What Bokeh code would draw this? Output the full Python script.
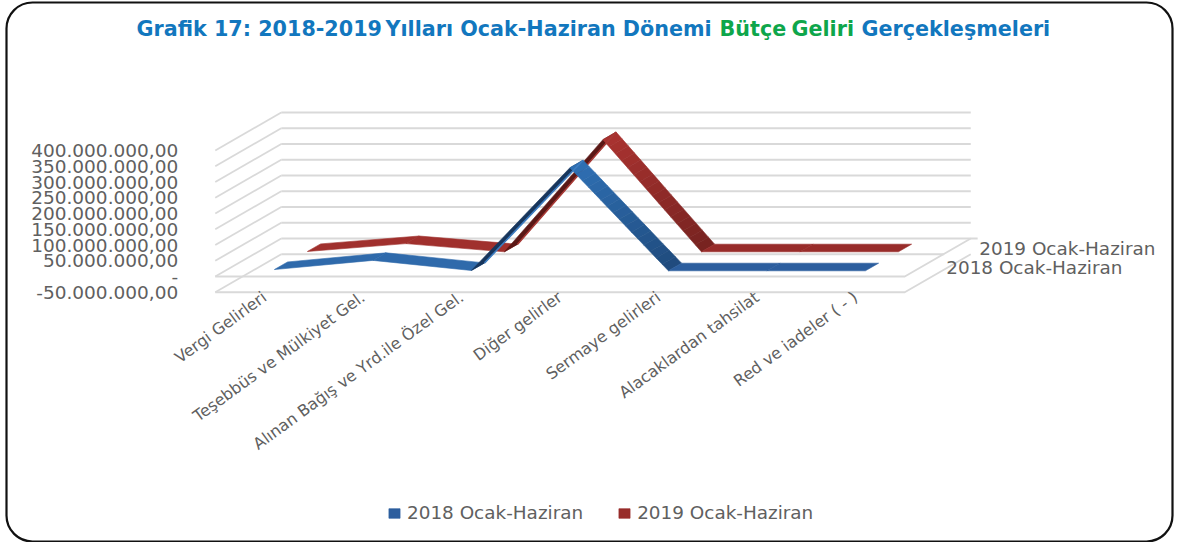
from bokeh.plotting import figure
from bokeh.models import (Range1d, FixedTicker, Legend, LegendItem, BoxAnnotation)
from bokeh.core.properties import value
from bokeh.embed import file_html
from bokeh.resources import INLINE

# ---------- data ----------
categories = ["Vergi Gelirleri", "Teşebbüs ve Mülkiyet Gel.", "Alınan Bağış ve Yrd.ile Özel Gel.",
              "Diğer gelirler", "Sermaye gelirleri", "Alacaklardan tahsilat", "Red ve iadeler ( - )"]
values_2018 = [4e6, 33e6, 1e6, 327e6, 0, 0, 0]
values_2019 = [1e6, 26e6, 0, 356e6, 0, 0, 0]
series_names = ["2018 Ocak-Haziran", "2019 Ocak-Haziran"]
value_ticks = [-50e6, 0, 50e6, 100e6, 150e6, 200e6, 250e6, 300e6, 350e6, 400e6]
value_labels = ["-50.000.000,00", "-", "50.000.000,00", "100.000.000,00", "150.000.000,00",
                "200.000.000,00", "250.000.000,00", "300.000.000,00", "350.000.000,00", "400.000.000,00"]

# ---------- layout of the oblique projection ----------
W, H = 1186, 542
CAT_PX = 98.5          # pixels per category
VAL_PX = 15.75 / 50e6  # pixels per unit of value
X0_PX, Y0_PX = 264, 276
DEPTH_DX = 66 / CAT_PX      # shift in category units for full depth
DEPTH_DY = 38 / VAL_PX      # shift in value units for full depth
X_LO, X_HI = -0.5, 6.5
GRID = "#D9D9D9"
TXT = "#606060"
FONT = "DejaVu Sans"


def proj(i, v, d):
    return i + DEPTH_DX * d, v + DEPTH_DY * d


def mix(c1, c2, t):
    a = [int(c1[k:k + 2], 16) for k in (1, 3, 5)]
    b = [int(c2[k:k + 2], 16) for k in (1, 3, 5)]
    return "#%02x%02x%02x" % tuple(round(a[k] + (b[k] - a[k]) * t) for k in range(3))


p = figure(width=W, height=H, output_backend="svg", toolbar_location=None,
           x_range=Range1d(-X0_PX / CAT_PX, (W - X0_PX) / CAT_PX),
           y_range=Range1d(-(H - Y0_PX) / VAL_PX, Y0_PX / VAL_PX),
           min_border=0, margin=0,
           x_axis_location="below", y_axis_location="left")
p.outline_line_color = None
p.grid.visible = False
p.background_fill_color = "white"

# ---------- frame ----------
p.add_layout(BoxAnnotation(left=6, right=1172, top=1, bottom=540,
                           left_units="screen", right_units="screen",
                           top_units="screen", bottom_units="screen",
                           fill_alpha=0, line_color="#111111", line_width=2.2, line_alpha=1,
                           border_radius=26, level="underlay"))

# ---------- walls and floor ----------
gx, gy = [], []
for v in value_ticks:
    # back wall (the two lowest lines differ slightly in length on the right)
    end = X_HI + (0.07 if v == 0 else -0.27 if v == value_ticks[0] else 0)
    a, b = proj(X_LO, v, 1), proj(end, v, 1)
    gx.append([a[0], b[0]]); gy.append([a[1], b[1]])
    # left wall
    c = proj(X_LO, v, 0)
    gx.append([c[0], a[0]]); gy.append([c[1], a[1]])
for v in value_ticks[:2]:
    # front of floor and right side
    a, b, c = proj(X_LO, v, 0), proj(X_HI, v, 0), proj(X_HI, v, 1)
    gx.append([a[0], b[0], c[0]]); gy.append([a[1], b[1], c[1]])
p.multi_line(gx, gy, line_color=GRID, line_width=1.8)

# ---------- ribbons ----------
styles = [
    dict(vals=values_2018, d=(0.15, 0.35), flat="#2c5e9e", up="#2f6aab", steep_up="#17355c",
         edge="#3d7cc0", top="#2f70b4", bot="#1f4a7c"),
    dict(vals=values_2019, d=(0.65, 0.85), flat="#982c2a", up="#a0302d", steep_up="#5a1816",
         edge="#a83a36", top="#aa3330", bot="#762220"),
]
legend_r = {}
for s, name in reversed(list(zip(styles, series_names))):
    xs, ys, cols = [], [], []
    fx, fy = [], []
    ex, ey = [], []
    vals = s["vals"]
    d0, d1 = s["d"]
    for i in range(len(vals) - 1):
        slope = vals[i + 1] - vals[i]
        steep = abs(slope) > 100e6
        bands = 16 if steep and slope < 0 else 1
        for b in range(bands):
            t0, t1 = b / bands, (b + 1) / bands
            i0, i1 = i + t0, i + t1
            v0 = vals[i] + slope * t0
            v1 = vals[i] + slope * t1
            A, B = proj(i0, v0, d0), proj(i1, v1, d0)
            C, D = proj(i1, v1, d1), proj(i0, v0, d1)
            qx = [A[0], B[0], C[0], D[0]]
            qy = [A[1], B[1], C[1], D[1]]
            if slope == 0:
                fx.append(qx); fy.append(qy)
                continue
            xs.append(qx); ys.append(qy)
            if steep and slope < 0:
                cols.append(mix(s["top"], s["bot"], (t0 + t1) / 2))
            elif steep:
                cols.append(s["steep_up"])
            else:
                cols.append(s["up"])
        if steep and slope > 0:
            A, B = proj(i, vals[i], d1), proj(i + 1, vals[i + 1], d1)
            ex.append([A[0], B[0]]); ey.append([A[1], B[1]])
    p.patches(xs, ys, fill_color=cols, line_color=cols, line_width=0.6)
    p.multi_line(ex, ey, line_color=s["edge"], line_width=1.6)
    legend_r[name] = p.patches(fx, fy, fill_color=s["flat"], line_color=s["flat"], line_width=0.6)

# ---------- series names on the depth axis ----------
depths = [0.25, 0.75]
dp = [proj(X_HI, value_ticks[0], d) for d in depths]
p.text([q[0] for q in dp], [q[1] for q in dp], text=series_names,
       x_offset=25, y_offset=-15, text_font=value(FONT), text_font_size="18.4px",
       text_color=TXT, text_align="left", text_baseline="middle")

# ---------- legend ----------
legend = Legend(items=[LegendItem(label=n, renderers=[legend_r[n]]) for n in series_names],
                orientation="horizontal", location=(387, 19),
                border_line_color=None, background_fill_alpha=0,
                label_text_font=FONT, label_text_font_size="18.4px", label_text_color=TXT,
                glyph_width=14, glyph_height=12, spacing=34, label_standoff=6,
                padding=4, margin=0)
p.add_layout(legend)

# ---------- axes ----------
ya = p.yaxis[0]
ya.fixed_location = X_LO
ya.ticker = FixedTicker(ticks=value_ticks)
ya.major_label_overrides = dict(zip(value_ticks, value_labels))
ya.axis_line_color = None
ya.major_tick_line_color = None
ya.minor_tick_line_color = None
ya.major_label_standoff = 31
ya.major_label_text_font = FONT
ya.major_label_text_font_size = "18.5px"
ya.major_label_text_color = TXT

xa = p.xaxis[0]
xa.fixed_location = value_ticks[0]
xa.ticker = FixedTicker(ticks=list(range(len(categories))))
xa.major_label_overrides = dict(enumerate(categories))
xa.major_label_orientation = 0.63
xa.axis_line_color = None
xa.major_tick_line_color = None
xa.minor_tick_line_color = None
xa.major_label_standoff = -3
xa.major_label_text_font = FONT
xa.major_label_text_font_size = "16px"
xa.major_label_text_color = TXT

# ---------- title ----------
title_parts = [("Grafik 17: 2018-2019", 136, "#1277BE", "bold"),
               ("Yılları Ocak-Haziran Dönemi", 385, "#1277BE", "bold"),
               ("Bütçe", 719, "#0EA64B", "bold"),
               ("Geliri", 791, "#0EA64B", "bold"),
               ("Gerçekleşmeleri", 861, "#1277BE", "bold")]
for txt, px, col, st in title_parts:
    p.text([(px - X0_PX) / CAT_PX], [(Y0_PX - 28) / VAL_PX], text=[txt], text_color=col,
           text_font=value(FONT), text_font_size="20.7px", text_font_style=st,
           text_align="left", text_baseline="middle")

open("out.html", "w").write(file_html(p, INLINE))
